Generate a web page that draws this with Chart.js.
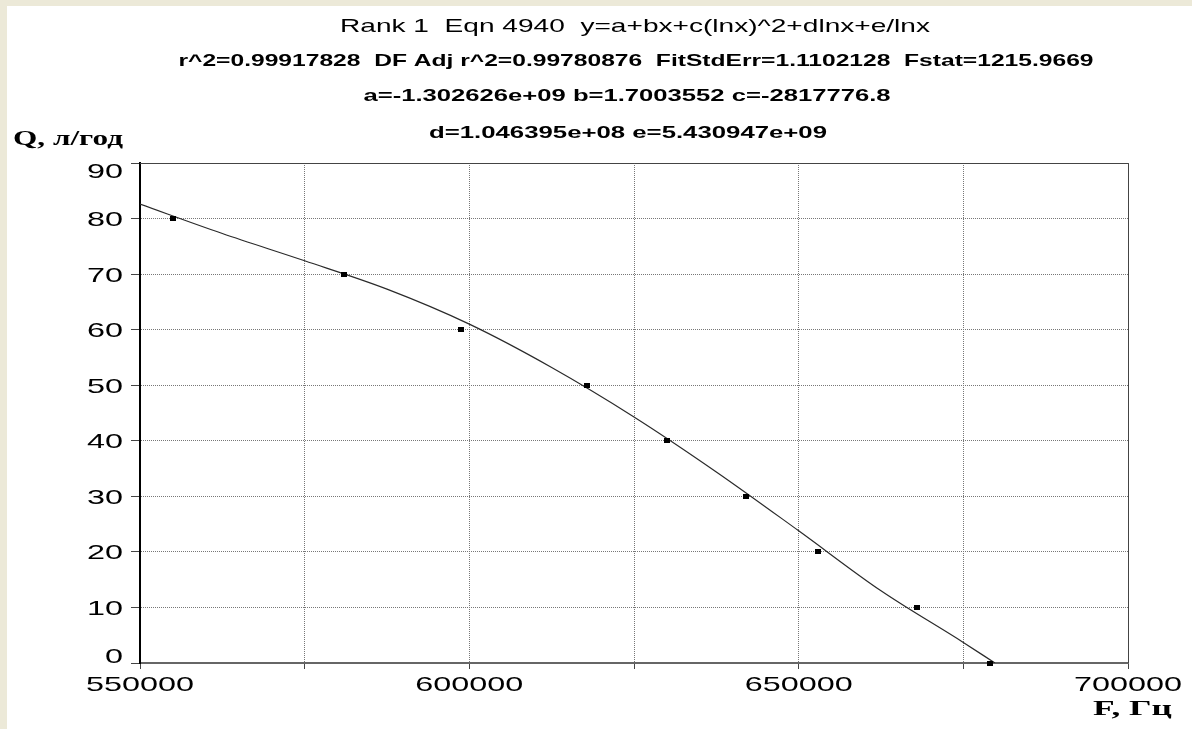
<!DOCTYPE html>
<html>
<head>
<meta charset="utf-8">
<script src="https://cdn.jsdelivr.net/npm/chart.js@4.4.0/dist/chart.umd.min.js"></script>
<style>
html, body { margin: 0; padding: 0; background: #ece9d8; }
#wrap { position: absolute; left: 7px; top: 6px; width: 1185px; height: 723px; background: #fff; }
</style>
</head>
<body>
<div id="wrap"><canvas id="chart1" width="1185" height="723"></canvas></div>
<script>
// measured points (F, Hz / Q, l/h)
const freqPoints = [555000, 581000, 598700, 617900, 630000, 642000, 653000, 667900, 679000];
const flowPoints = [80, 70, 60, 50, 40, 30, 20, 10, 0];

// fitted curve
const fitFreq = [550000, 562500, 575000, 587500, 600000, 612500, 625000, 637500, 650000, 662500, 675000, 679800];
const fitFlow = [82.6, 77.3, 72.4, 67.3, 61.0, 53.2, 44.3, 34.4, 23.8, 13.0, 3.7, 0];

const xLabelValues = [550000, 600000, 650000, 700000];
const yLabelValues = [0, 10, 20, 30, 40, 50, 60, 70, 80, 90];

const titleLines = [
    'Rank 1  Eqn 4940  y=a+bx+c(lnx)^2+dlnx+e/lnx',
    'r^2=0.99917828  DF Adj r^2=0.99780876  FitStdErr=1.1102128  Fstat=1215.9669',
    'a=-1.302626e+09 b=1.7003552 c=-2817776.8',
    'd=1.046395e+08 e=5.430947e+09'
];
const yTitle = 'Q, л/год';
const xTitle = 'F, Гц';

// small black squares like the original plot
var dot = document.createElement('canvas');
dot.width = 6; dot.height = 5;
dot.getContext('2d').fillRect(0, 0, 6, 5);

// text in the picture is stretched sideways, so draw it scaled to width
function wideText(ctx, text, x, y, font, width, align)
{
    ctx.save();
    ctx.font = font;
    var sx = width / ctx.measureText(text).width;
    ctx.translate(x, y);
    ctx.scale(sx, 1);
    ctx.textAlign = align || 'center';
    ctx.textBaseline = 'alphabetic';
    ctx.fillStyle = '#000';
    ctx.fillText(text, 0, 0);
    ctx.restore();
}

var textPlugin = {
    id: 'textPlugin',
    afterDraw: function(chart) {
        var ctx = chart.ctx;
        var area = chart.chartArea;
        var xs = chart.scales.x, ys = chart.scales.y;

        // frame top / right
        ctx.save();
        ctx.strokeStyle = '#444';
        ctx.lineWidth = 1;
        ctx.beginPath();
        ctx.moveTo(area.left, area.top + 0.5);
        ctx.lineTo(area.right + 0.5, area.top + 0.5);
        ctx.lineTo(area.right + 0.5, area.bottom);
        ctx.stroke();
        ctx.restore();

        // titles
        wideText(ctx, titleLines[0], 628, 26, '19px "Liberation Sans", Arial', 590);
        wideText(ctx, titleLines[1], 629, 60, 'bold 17px "Liberation Sans", Arial', 915);
        wideText(ctx, titleLines[2], 620, 95, 'bold 17px "Liberation Sans", Arial', 527);
        wideText(ctx, titleLines[3], 621, 132, 'bold 17px "Liberation Sans", Arial', 398);

        // axis titles
        wideText(ctx, yTitle, 6, 139, 'bold 20px "Liberation Serif", "Times New Roman"', 110, 'left');
        wideText(ctx, xTitle, 1165, 709, 'bold 20px "Liberation Serif", "Times New Roman"', 79, 'right');

        // tick labels
        var tickFont = '21px "Liberation Sans", Arial';
        ctx.font = tickFont;
        var digitScale = 108 / ctx.measureText('550000').width;
        xLabelValues.forEach(function(v) {
            var s = String(v);
            ctx.font = tickFont;
            var w = ctx.measureText(s).width * digitScale;
            wideText(ctx, s, xs.getPixelForValue(v), 685, tickFont, w);
        });
        yLabelValues.forEach(function(v) {
            var s = String(v);
            ctx.font = tickFont;
            var w = ctx.measureText(s).width * digitScale;
            var py = ys.getPixelForValue(v);
            var base = py + 7.5;
            if (v === 90) base = area.top + 15;
            if (v === 0) base = area.bottom;
            wideText(ctx, s, 116, base, tickFont, w, 'right');
        });
    }
};

var ctx = document.getElementById('chart1').getContext('2d');

new Chart(ctx, {
    type: 'scatter',
    data: {
        datasets: [{
            label: 'data',
            data: freqPoints.map(function(f, i) { return {x: f, y: flowPoints[i]}; }),
            pointStyle: dot,
            pointRadius: 3,
            showLine: false,
            clip: false
        }, {
            label: 'fit',
            data: fitFreq.map(function(f, i) { return {x: f, y: fitFlow[i]}; }),
            showLine: true,
            pointRadius: 0,
            borderColor: '#2a2a2a',
            borderWidth: 1.2,
            cubicInterpolationMode: 'monotone'
        }]
    },
    plugins: [textPlugin],
    options: {
        responsive: false,
        animation: false,
        layout: { padding: { left: 0, top: 157, right: 64, bottom: 0 } },
        plugins: { legend: { display: false }, tooltip: { enabled: false } },
        scales: {
            x: {
                type: 'linear',
                min: 550000,
                max: 700000,
                ticks: { stepSize: 25000, display: false },
                grid: { color: '#777', lineWidth: 1, tickLength: 6, tickColor: '#444' },
                border: { color: '#666', width: 2, dash: [1, 1] },
                afterFit: function(scale) { scale.height = 66; scale.paddingLeft = 0; scale.paddingRight = 0; }
            },
            y: {
                min: 0,
                max: 90,
                ticks: { stepSize: 10, display: false },
                grid: { color: '#777', lineWidth: 1, tickLength: 9, tickColor: '#444' },
                border: { color: '#000', width: 2, dash: [1, 1] },
                afterFit: function(scale) { scale.width = 133; scale.paddingTop = 0; scale.paddingBottom = 0; }
            }
        }
    }
});
</script>
</body>
</html>
